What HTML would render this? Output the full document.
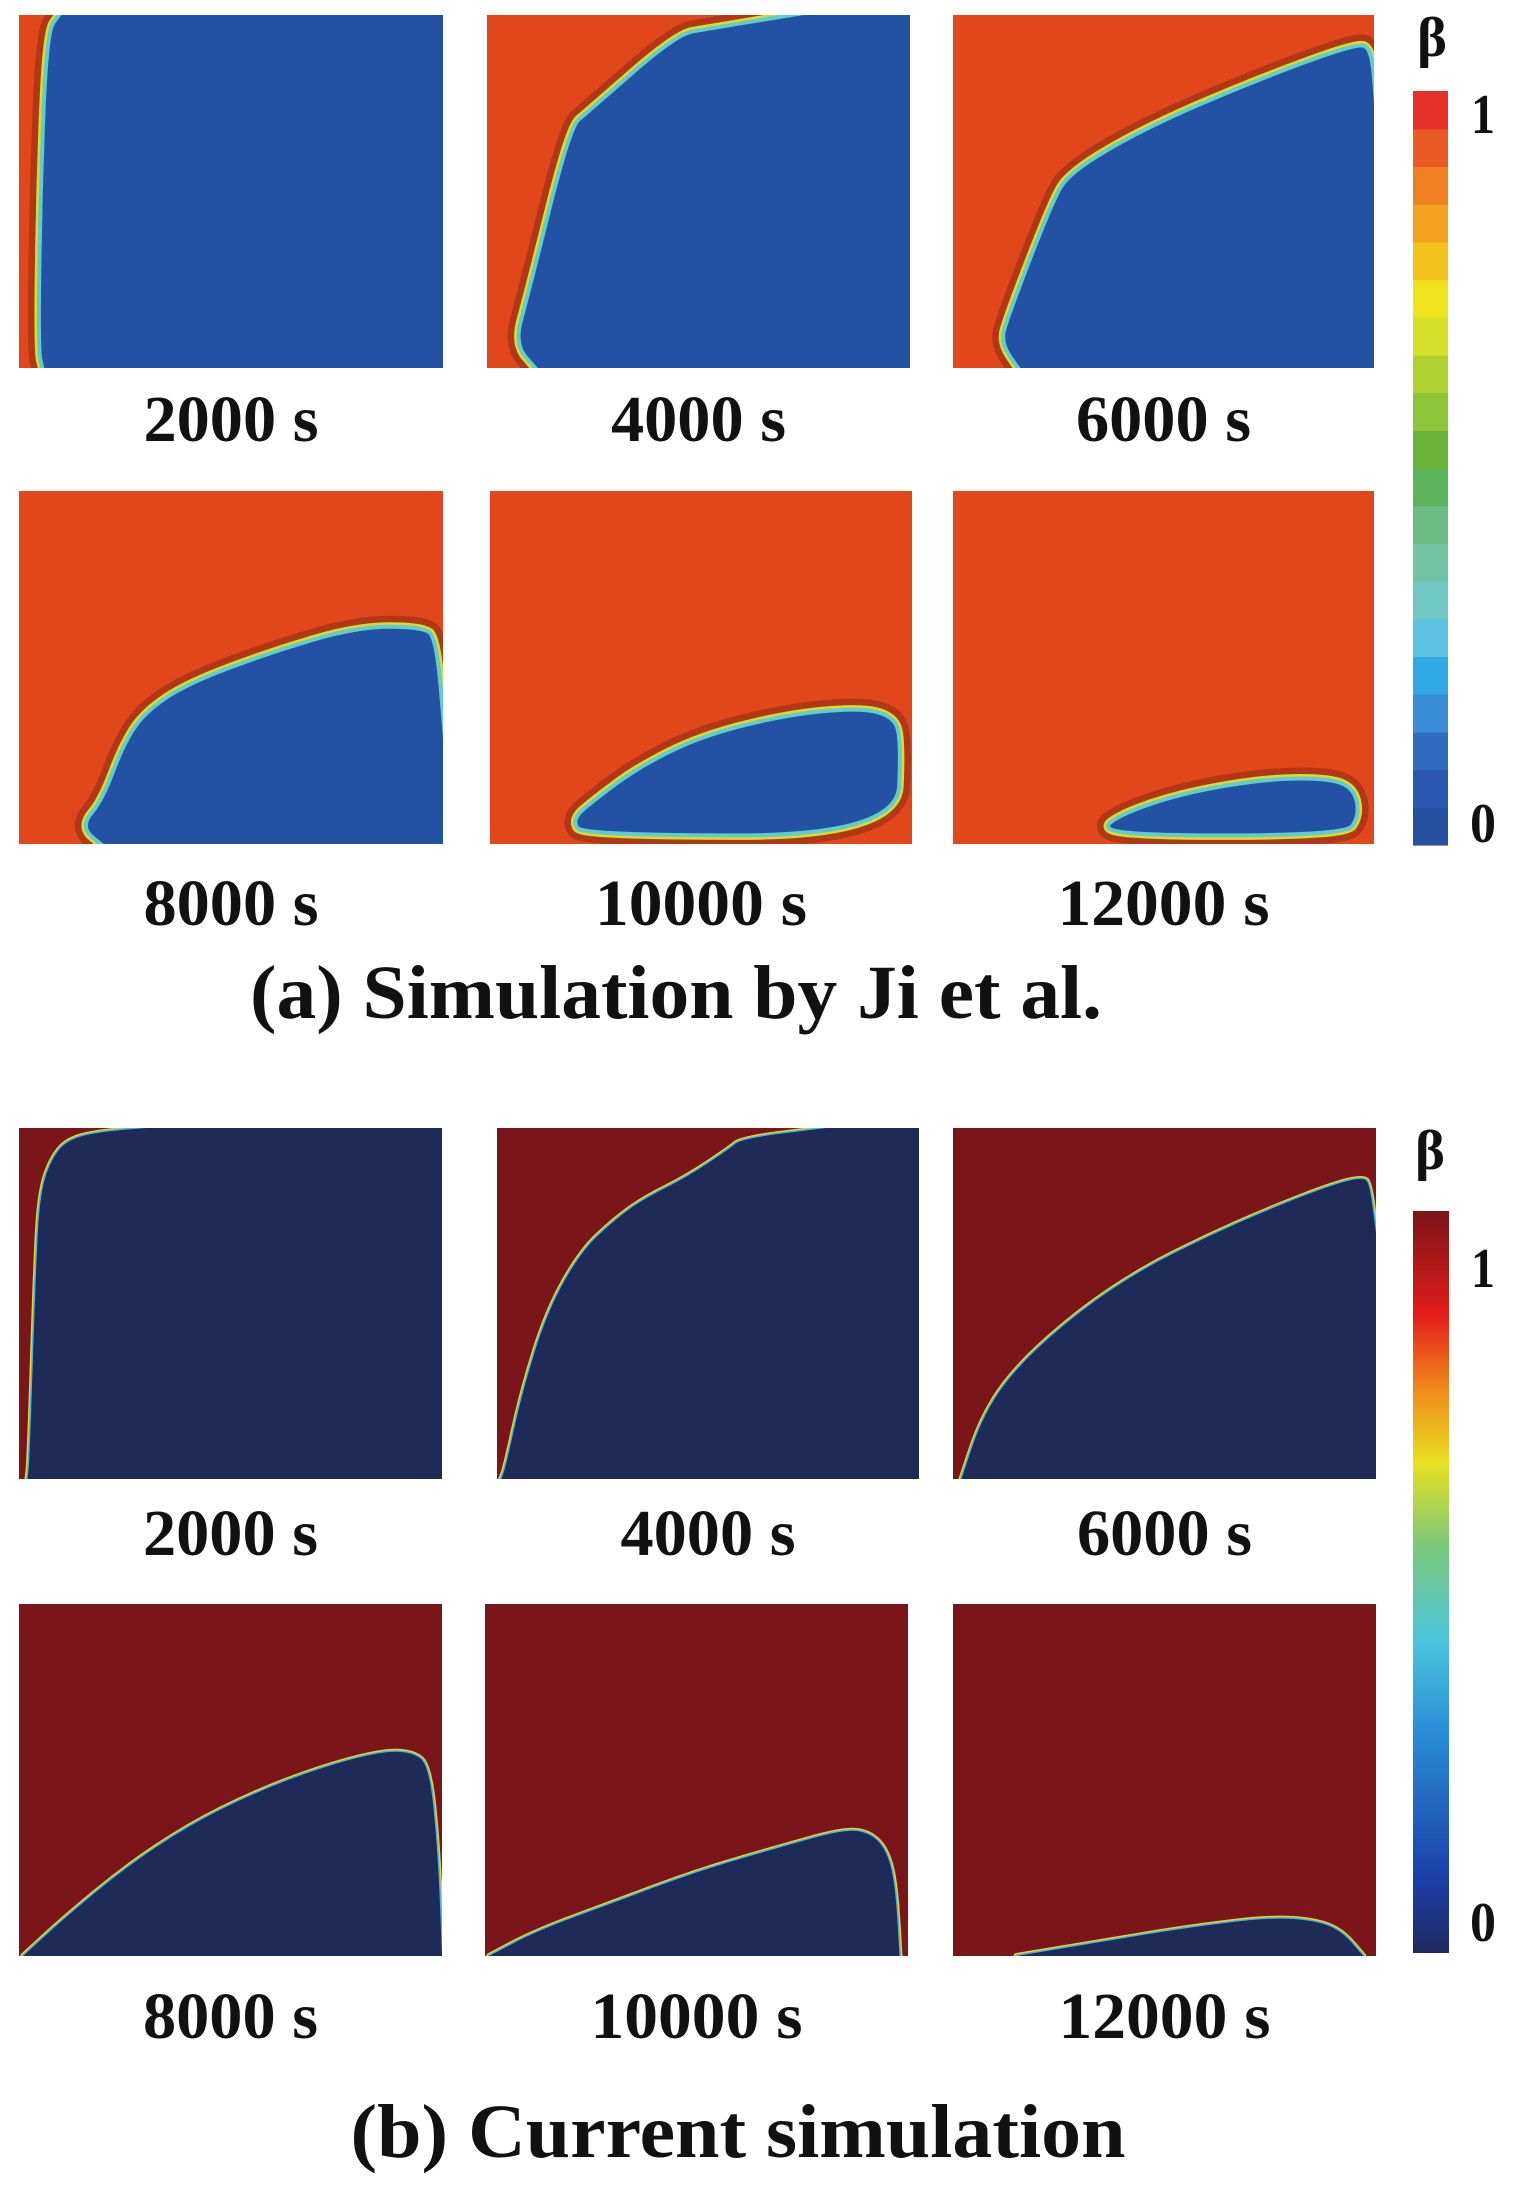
<!DOCTYPE html>
<html><head><meta charset="utf-8"><style>
html,body{margin:0;padding:0;background:#fff;}
svg{display:block;}
text{font-family:"Liberation Serif","Times New Roman",serif;font-weight:bold;fill:#111;}
</style></head><body>
<svg id="fig" width="1522" height="2185" viewBox="0 0 1522 2185" xmlns="http://www.w3.org/2000/svg">
<defs>
<linearGradient id="jet" x1="0" y1="1" x2="0" y2="0">
<stop offset="0" stop-color="#1f2a5e"/><stop offset="0.1" stop-color="#1b3fa8"/><stop offset="0.3" stop-color="#2a8ed8"/><stop offset="0.42" stop-color="#4cc4dc"/><stop offset="0.55" stop-color="#7cc878"/><stop offset="0.66" stop-color="#e8e020"/><stop offset="0.76" stop-color="#f08a1c"/><stop offset="0.86" stop-color="#e41c1c"/><stop offset="1" stop-color="#7a1418"/>
</linearGradient>
</defs>
</svg>
<script>
// times (labels)
const timesA = ["2000 s","4000 s","6000 s","8000 s","10000 s","12000 s"];
const timesB = ["2000 s","4000 s","6000 s","8000 s","10000 s","12000 s"];
// interface (blue region) outlines as fractions of panel width/height
const shapeA2000 = [[0.1,0],[1,0],[1,1],[0.06,1],[0.05,0.95],[0.055,0.5],[0.07,0.05]];
const shapeA4000 = [[0.75,0],[1,0],[1,1],[0.12,1],[0.07,0.93],[0.1,0.8],[0.2,0.32],[0.24,0.28],[0.45,0.06],[0.52,0.045]];
const shapeA6000 = [[0.16,1],[1,1],[1,0.25],[0.99,0.1],[0.96,0.085],[0.7,0.2],[0.45,0.33],[0.28,0.45],[0.24,0.53],[0.13,0.87],[0.12,0.93]];
const shapeA8000 = [[0.2,1],[1,1],[1,0.7],[0.98,0.42],[0.95,0.39],[0.8,0.39],[0.6,0.46],[0.4,0.55],[0.3,0.63],[0.25,0.72],[0.2,0.88],[0.15,0.95]];
const shapeA10000 = [[0.22,0.97],[0.96,0.97],[0.97,0.7],[0.95,0.64],[0.87,0.62],[0.7,0.64],[0.5,0.7],[0.35,0.79],[0.25,0.88],[0.2,0.93]];
const shapeA12000 = [[0.35,0.97],[0.93,0.97],[0.96,0.92],[0.95,0.85],[0.9,0.82],[0.75,0.82],[0.55,0.86],[0.4,0.92]];
const shapeB2000 = [[0.02,1],[1,1],[1,0],[0.3,0],[0.2,0.01],[0.12,0.03],[0.08,0.08],[0.05,0.18],[0.04,0.4],[0.025,0.95]];
const shapeB4000 = [[0.01,1],[1,1],[1,0],[0.78,0],[0.58,0.03],[0.55,0.06],[0.45,0.14],[0.35,0.2],[0.28,0.26],[0.2,0.35],[0.12,0.52],[0.06,0.75],[0.02,0.97]];
const shapeB6000 = [[0.02,1],[1,1],[1,0.3],[0.985,0.16],[0.97,0.14],[0.9,0.16],[0.75,0.23],[0.6,0.31],[0.45,0.4],[0.3,0.52],[0.15,0.68],[0.07,0.82]];
const shapeB8000 = [[0.01,1],[1,1],[0.99,0.7],[0.97,0.46],[0.93,0.42],[0.85,0.42],[0.7,0.47],[0.55,0.54],[0.4,0.63],[0.25,0.75],[0.1,0.9]];
const shapeB10000 = [[0.01,1],[0.98,1],[0.97,0.8],[0.95,0.7],[0.91,0.65],[0.85,0.64],[0.7,0.69],[0.5,0.76],[0.3,0.85],[0.12,0.93]];
const shapeB12000 = [[0.15,1],[0.97,1],[0.92,0.93],[0.86,0.9],[0.75,0.89],[0.55,0.92],[0.35,0.96]];
// discrete colorbar levels for (a), bottom -> top
const levelsA = ["#2650a0","#2a58b0","#2f6cc0","#3a8ed8","#30a8e4","#5cc0e0","#70c8c4","#70c4a4","#6cbc84","#5cb45c","#6ab43a","#8cc43a","#b0d030","#d5e02a","#f0e21e","#f5c21c","#f4a020","#f07f22","#ea5a24","#e8302a"];

const NS="http://www.w3.org/2000/svg";
const svg=document.getElementById('fig');
function mk(tag,attrs,parent){const e=document.createElementNS(NS,tag);for(const k in attrs)e.setAttribute(k,attrs[k]);(parent||svg).appendChild(e);return e;}

const panelsA=[[19,15,424,353],[487,15,423,353],[953,15,421,353],[19,491,424,353],[490,491,422,353],[953,491,421,353]];
const panelsB=[[19,1128,423,351],[497,1128,422,351],[953,1128,423,351],[19,1604,423,352],[485,1604,423,352],[953,1604,423,352]];
const shapesA=[shapeA2000,shapeA4000,shapeA6000,shapeA8000,shapeA10000,shapeA12000];
const shapesB=[shapeB2000,shapeB4000,shapeB6000,shapeB8000,shapeB10000,shapeB12000];

// smooth closed path: corners on panel edges kept sharp, interior points smoothed via midpoints
function pathD(shape,p){
  const P=shape.map(q=>[p[0]+q[0]*p[2],p[1]+q[1]*p[3]]);
  const n=P.length;
  const edge=q=>q[0]<=0.001||q[0]>=0.999||q[1]<=0.001||q[1]>=0.999;
  const mid=(a,b)=>[(a[0]+b[0])/2,(a[1]+b[1])/2];
  let d="";
  for(let i=0;i<n;i++){
    const prev=P[(i-1+n)%n],cur=P[i],next=P[(i+1)%n];
    const m0=mid(prev,cur),m1=mid(cur,next);
    if(i===0)d+="M"+m0[0].toFixed(1)+","+m0[1].toFixed(1);
    if(edge(shape[i]))d+=" L"+cur[0].toFixed(1)+","+cur[1].toFixed(1)+" L"+m1[0].toFixed(1)+","+m1[1].toFixed(1);
    else d+=" Q"+cur[0].toFixed(1)+","+cur[1].toFixed(1)+" "+m1[0].toFixed(1)+","+m1[1].toFixed(1);
  }
  return d+" Z";
}

function drawPanel(p,shape,bg,fg,strokes,i,pre){
  const g=mk('g',{});
  
  
  const cid=pre+'clip'+i;
  const cp=mk('clipPath',{id:cid},g);
  mk('rect',{x:p[0],y:p[1],width:p[2],height:p[3]},cp);
  const inner=mk('g',{'clip-path':'url(#'+cid+')'},g);
  mk('rect',{x:p[0],y:p[1],width:p[2],height:p[3],fill:bg},inner);
  const D=pathD(shape,p);
  strokes.forEach(s=>mk('path',{d:D,fill:'none',stroke:s[0],'stroke-width':s[1],'stroke-opacity':s[2]||1,'stroke-linejoin':'round'},inner));
  const b=mk('path',{d:D,fill:fg},inner);
  
  
}
function label(x,y,t,len,size,name){
  const e=mk('text',{x:x,y:y,'text-anchor':'middle','font-size':size,textLength:len,lengthAdjust:'spacingAndGlyphs'});
  e.textContent=t;
  
  
}
const strokesA=[["#5a1a10",26,0.35],["#d8dc2a",13],["#60cccc",8]];
const strokesB=[["#f0d020",6],["#40b8e0",3]];
panelsA.forEach((p,i)=>{
  drawPanel(p,shapesA[i],"#e2471b","#2352a5",strokesA,i,'a');
  const by=i<3?441:925; const t=timesA[i];
  label(p[0]+p[2]/2,by,t,t.length>6?212:175,66,'a-time-label-'+i);
});
panelsB.forEach((p,i)=>{
  drawPanel(p,shapesB[i],"#7a1519","#1e2a57",strokesB,i,'b');
  const by=i<3?1555:2038; const t=timesB[i];
  label(p[0]+p[2]/2,by,t,t.length>6?212:175,66,'b-time-label-'+i);
});
label(676,1018,"(a) Simulation by Ji et al.",852,76,'title-a');
label(738,2157,"(b) Current simulation",775,76,'title-b');

// colorbar a
const cbA=mk('g',{});


const cbTop=91,cbBot=845,cbH=(cbBot-cbTop)/levelsA.length;
levelsA.forEach((c,k)=>mk('rect',{x:1413,y:(cbBot-(k+1)*cbH).toFixed(1),width:35,height:(cbH+0.6).toFixed(1),fill:c},cbA));
label(1432,56,"β",30,56,'colorbar-a-title');
label(1483,133,"1",24,56,'colorbar-a-max');
label(1483,842,"0",26,56,'colorbar-a-min');
// colorbar b
const cbB=mk('rect',{x:1413,y:1211,width:36,height:742,fill:'url(#jet)'});


label(1430,1169,"β",30,56,'colorbar-b-title');
label(1483,1287,"1",24,56,'colorbar-b-max');
label(1483,1941,"0",26,56,'colorbar-b-min');
</script>
</body></html>
